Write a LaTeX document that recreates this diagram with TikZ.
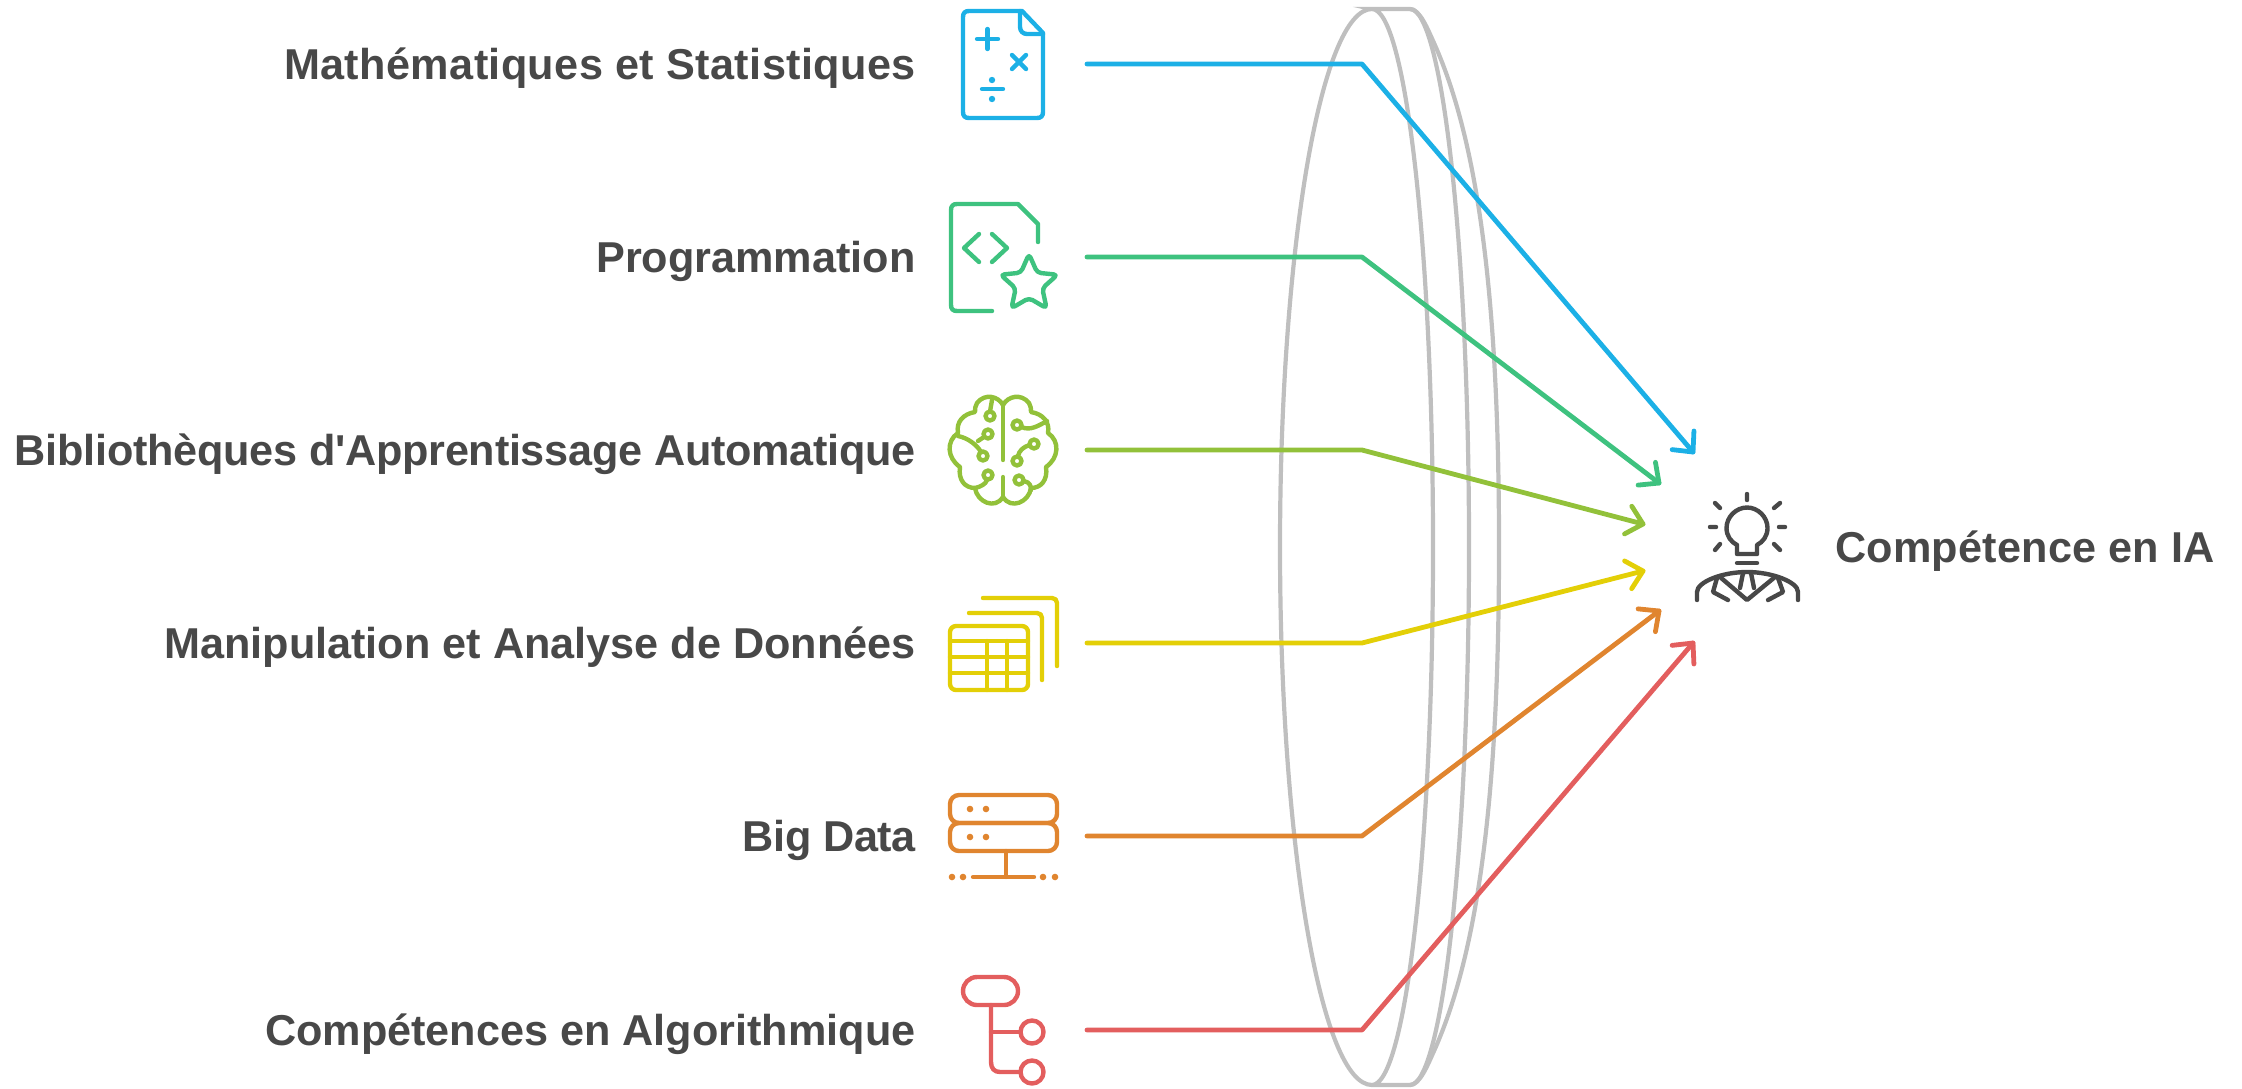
\documentclass[tikz,border=0pt]{standalone}
\usepackage{fontspec}
\newfontfamily\lblfont{Liberation Sans}
\usetikzlibrary{calc}
\definecolor{cBlue}{HTML}{1CB0E6}
\definecolor{cGreen}{HTML}{3EC27F}
\definecolor{cLime}{HTML}{92C13A}
\definecolor{cYellow}{HTML}{E3CF07}
\definecolor{cOrange}{HTML}{E0852F}
\definecolor{cRed}{HTML}{E35E5E}
\definecolor{cLens}{HTML}{BFBFBF}
\definecolor{cDark}{HTML}{484848}
\tikzset{
  lbl/.style={anchor=base east,inner sep=0pt,text=cDark,font=\lblfont\fontsize{21.6}{25}\selectfont\bfseries},
  lens/.style={draw=cLens,line width=2.1pt},
  conn/.style={line width=2.4pt,line cap=round,line join=round},
  ico/.style={line width=2.2pt,line cap=round,line join=round}
}
\newcommand\connector[2]{%
  \draw[conn,#2] (s#1) -- (m#1) -- (t#1);
  \draw[conn,#2] ($(t#1)!10.5pt!43:(m#1)$) -- (t#1) -- ($(t#1)!10.5pt!-43:(m#1)$);
}
\begin{document}
\begin{tikzpicture}[x=0.5pt,y=-0.5pt]
\useasboundingbox (0,0) rectangle (2242,1088);
% lens
\draw[lens] (1372,9) .. controls (1321,9) and (1280,250) .. (1280,547) .. controls (1280,844) and (1321,1085) .. (1372,1085)
  .. controls (1405.7,1085) and (1433,844) .. (1433,547) .. controls (1433,250) and (1405.7,9) .. (1372,9) -- (1410,9)
  .. controls (1442.6,9) and (1469,250) .. (1469,547) .. controls (1469,844) and (1442.6,1085) .. (1410,1085) -- (1372,1085);
\draw[lens] (1410,9) .. controls (1420,9) and (1428,30) .. (1434,43) .. controls (1482,150) and (1499,320) .. (1499,547)
  .. controls (1499,774) and (1482,944) .. (1434,1051) .. controls (1428,1064) and (1420,1085) .. (1410,1085);
% labels
\node[lbl] (lA) at (916,79) {\addfontfeature{LetterSpace=0.86}Mathématiques et Statistiques};
\node[lbl] (lB) at (916,272) {Programmation};
\node[lbl] (lC) at (916,465) {\addfontfeature{LetterSpace=-0.58}Bibliothèques d'Apprentissage Automatique};
\node[lbl] (lD) at (916,658) {Manipulation et Analyse de Données};
\node[lbl] (lE) at (916,851) {\addfontfeature{LetterSpace=-1}Big Data};
\node[lbl] (lF) at (916,1045) {Compétences en Algorithmique};
\node[lbl,anchor=base west] (lT) at (1835,562) {\addfontfeature{LetterSpace=0.46}Compétence en IA};
% connector anchors
\foreach \n/\y/\tx/\ty in {A/64/1693/452,B/257/1659/483,C/450/1643/524,D/643/1643/571,E/836/1659/611,F/1030/1693/643}{
  \coordinate (s\n) at (1087,\y);
  \coordinate (m\n) at (1362,\y);
  \coordinate (t\n) at (\tx,\ty);
}
\connector{A}{cBlue}
\connector{B}{cGreen}
\connector{C}{cLime}
\connector{D}{cYellow}
\connector{E}{cOrange}
\connector{F}{cRed}
% blue icon
\begin{scope}[ico,cBlue]
\draw (1022,11) -- (969,11) .. controls (965,11) and (963,13) .. (963,17) -- (963,112) .. controls (963,116) and (965,118) .. (969,118) -- (1037,118) .. controls (1041,118) and (1043,116) .. (1043,112) -- (1043,33) -- (1022,11);
\draw (1020,11) -- (1020,27) .. controls (1020,31) and (1023,34) .. (1027,34) -- (1043,34);
\draw (977,39) -- (998,39) (987.5,29) -- (987.5,49);
\draw (1012,55) -- (1026,69) (1026,55) -- (1012,69);
\draw (982,89) -- (1003,89);
\fill (992,80) circle[radius=3.2] (992,99) circle[radius=3.2];
\end{scope}
% green icon
\begin{scope}[ico,cGreen]
\draw (1038,242) -- (1038,224) -- (1018,204) -- (957,204) .. controls (953,204) and (951,206) .. (951,210) -- (951,305) .. controls (951,309) and (953,311) .. (957,311) -- (992,311);
\draw (979,234) -- (964,248) -- (979,262) (992,234) -- (1007,248) -- (992,262);
\draw[rounded corners=2pt] (1029,254) -- (1037.2,272.7) -- (1057.5,274.7) -- (1042.3,288.3) -- (1046.6,308.3) -- (1029,298) -- (1011.4,308.3) -- (1015.7,288.3) -- (1000.5,274.7) -- (1020.8,272.7) -- cycle;
\end{scope}
% lime icon
\begin{scope}[ico,cLime]
\draw (1003,405) .. controls (998,396) and (985,393) .. (977,403) .. controls (975,406) and (975,409) .. (975,412)
  .. controls (963,414) and (956,422) .. (958,433) .. controls (946,441) and (947,458) .. (960,467)
  .. controls (958,480) and (965,488) .. (975,488) .. controls (977,502) and (995,510) .. (1003,497);
\draw (1003,405) .. controls (1008,396) and (1021,393) .. (1029,403) .. controls (1031,406) and (1031,409) .. (1031,412)
  .. controls (1043,414) and (1050,422) .. (1048,433) .. controls (1060,441) and (1059,458) .. (1046,467)
  .. controls (1048,480) and (1041,488) .. (1031,488) .. controls (1029,502) and (1011,510) .. (1003,497);
\draw (1003,405) -- (1003,460) (1003,477) -- (1003,497);
\draw (990,416) circle[radius=4.5] (992,400) -- (990,411.5);
\draw (988,434) circle[radius=4.5] (984,437) -- (978,441);
\draw (958,436) .. controls (968,438) and (977,445) .. (981,452);
\draw (983,456) circle[radius=4.5];
\draw (988,475) circle[radius=4.5] (987,480) .. controls (986,484) and (980,487) .. (975,488);
\draw (1017,425) circle[radius=4.5] (1021.5,427) .. controls (1030,431) and (1038,426) .. (1047,421);
\draw (1034,444) circle[radius=4.5] (1029.5,445) .. controls (1023,447) and (1019,451) .. (1018,456);
\draw (1017,461) circle[radius=4.5];
\draw (1019,480) circle[radius=4.5] (1023.5,481) .. controls (1030,482) and (1031,486) .. (1031,490);
\end{scope}
% yellow icon
\begin{scope}[ico,cYellow]
\draw[rounded corners=3pt] (950,626) rectangle (1028,690);
\draw (950,641) -- (1028,641) (950,657) -- (1028,657) (950,673) -- (1028,673);
\draw (987,641) -- (987,690) (1007,641) -- (1007,690);
\draw (969,613) -- (1037,613) .. controls (1040,613) and (1042,615) .. (1042,618) -- (1042,680);
\draw (983,598) -- (1052,598) .. controls (1055,598) and (1057,600) .. (1057,603) -- (1057,666);
\end{scope}
% orange icon
\begin{scope}[ico,cOrange]
\draw[rounded corners=4.5pt] (950,795) rectangle (1057,823);
\draw[rounded corners=4.5pt] (950,823) rectangle (1057,851);
\draw (1006,851) -- (1006,877) (973,877) -- (1034,877);
\fill (970,809) circle[radius=3.3] (986,809) circle[radius=3.3] (970,837) circle[radius=3.3] (986,837) circle[radius=3.3];
\fill (952,877) circle[radius=3.3] (963,877) circle[radius=3.3] (1043,877) circle[radius=3.3] (1055,877) circle[radius=3.3];
\end{scope}
% red icon
\begin{scope}[ico,cRed]
\draw[rounded corners=7pt] (963,977) rectangle (1018,1005);
\draw (991,1005) -- (991,1062) .. controls (991,1068) and (994,1072) .. (1000,1072) -- (1020.5,1072);
\draw (991,1032) -- (1020.5,1032);
\draw (1032,1032) circle[radius=11.5] (1032,1072) circle[radius=11.5];
\end{scope}
% person icon
\begin{scope}[ico,cDark]
\draw (1737,545) -- (1737,554) -- (1757,554) -- (1757,545) .. controls (1763,542) and (1767.5,536) .. (1767.5,528) .. controls (1767.5,517) and (1758,507.5) .. (1747,507.5) .. controls (1736,507.5) and (1726.5,517) .. (1726.5,528) .. controls (1726.5,536) and (1731,542) .. (1737,545);
\draw (1737,563) -- (1757,563);
\draw (1747,494) -- (1747,500) (1715,503) -- (1720,508) (1780,503) -- (1774,508) (1710,527) -- (1716,527) (1779,527) -- (1785,527) (1715,550) -- (1720,544) (1780,550) -- (1774,544);
\draw (1697,600) -- (1697,592) .. controls (1697,582) and (1722,572) .. (1747,572) .. controls (1772,572) and (1798,582) .. (1798,592) -- (1798,600);
\draw (1720,577) -- (1747,600) -- (1775,577);
\draw (1743,573) -- (1740,588) (1751,573) -- (1754,588);
\draw (1717,578) -- (1713,592) -- (1728,600) (1778,578) -- (1783,592) -- (1768,600);
\end{scope}
\end{tikzpicture}
\end{document}
